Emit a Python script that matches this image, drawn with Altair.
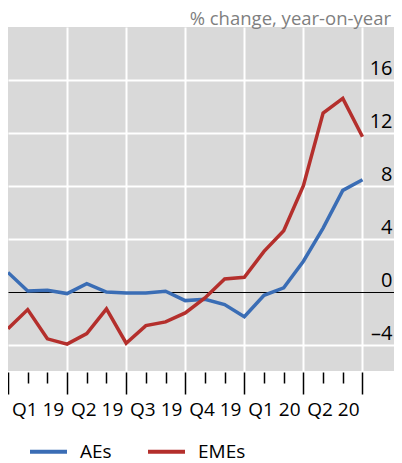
import altair as alt
import pandas as pd

# Monthly index: 0 = start of Q1 2019 ... 18 = end of Q2 2020
months = list(range(19))
ae = [1.45, 0.05, 0.1, -0.15, 0.6, -0.03, -0.1, -0.1, 0.03, -0.68, -0.58,
      -0.98, -1.9, -0.28, 0.28, 2.3, 4.8, 7.65, 8.45]
eme = [-2.8, -1.36, -3.57, -3.97, -3.17, -1.31, -3.9, -2.57, -2.29, -1.61,
       -0.48, 0.96, 1.08, 3.04, 4.6, 8.0, 13.5, 14.6, 11.7]
series_names = ["AEs", "EMEs"]
series_colors = ["#3a6db5", "#b42f2c"]
quarter_labels = ["Q1 19", "Q2 19", "Q3 19", "Q4 19", "Q1 20", "Q2 20"]
y_ticks = [-4, 0, 4, 8, 12, 16]
title_text = "% change, year-on-year"

df = pd.DataFrame({
    "m": months * 2,
    "v": ae + eme,
    "s": [series_names[0]] * len(ae) + [series_names[1]] * len(eme),
})

FONT = "Open Sans"
tick_vals = sorted(set(months + [1.5 + 3 * i for i in range(len(quarter_labels))]))
label_arr = "[" + ",".join(f"'{l}'" for l in quarter_labels) + "]"
label_expr = f"(datum.value % 3 == 1.5) ? {label_arr}[floor(datum.value / 3)] : ''"

x = alt.X(
    "m:Q",
    scale=alt.Scale(domain=[0, 19.6], nice=False, zero=False),
    axis=alt.Axis(
        values=tick_vals, title=None, domain=False, offset=1,
        tickColor="black", tickWidth=1.5,
        tickSize={"condition": {"test": "datum.value % 3 == 0", "value": 22}, "value": 11},
        tickOpacity={"condition": {"test": "datum.value % 1 != 0", "value": 0}, "value": 1},
        grid=True, gridColor="white", gridWidth=2,
        gridOpacity={"condition": {"test": "datum.value % 3 == 0 && datum.value > 0", "value": 1}, "value": 0},
        labelExpr=label_expr, labelFont=FONT, labelFontSize=19, labelColor="black",
        labelPadding=17, labelFlush=False, labelOverlap=False, labelBaseline="top",
    ),
)

y = alt.Y(
    "v:Q",
    scale=alt.Scale(domain=[-6, 20], nice=False, zero=False),
    axis=alt.Axis(
        values=y_ticks, orient="right", title=None, domain=False, ticks=False,
        grid=True,
        gridColor={"condition": {"test": "datum.value == 0", "value": "black"}, "value": "white"},
        gridWidth={"condition": {"test": "datum.value == 0", "value": 1.2}, "value": 2},
        labelAlign="right", labelPadding=-2, labelBaseline="alphabetic", labelOffset=-5,
        labelFont=FONT, labelFontSize=20, labelColor="black",
        labelExpr="datum.value < 0 ? '\u2013' + abs(datum.value) : datum.label",
    ),
)

color = alt.Color(
    "s:N",
    scale=alt.Scale(domain=series_names, range=series_colors),
    legend=alt.Legend(
        title=None, orient="none", legendX=20, legendY=404, direction="horizontal",
        symbolType="stroke", symbolSize=1369, symbolStrokeWidth=4,
        labelFont=FONT, labelFontSize=19, labelColor="black", labelOffset=11,
        columnPadding=28, padding=0, offset=0,
    ),
)

chart = (
    alt.Chart(df)
    .mark_line(strokeWidth=3.5)
    .encode(x=x, y=y, color=color)
    .properties(
        width=386, height=344,
        title=alt.TitleParams(
            text=title_text, anchor="end", frame="group", font=FONT, fontSize=18.5,
            fontWeight="normal", color="#7f7f7f", offset=-1, dx=-3,
        ),
        autosize=alt.AutoSizeParams(type="none"),
        padding={"left": 0, "top": 19, "right": 0, "bottom": 92},
    )
    .configure_view(fill="#d9d9d9", stroke=None)
)

chart.save("out.html", embed_options={"renderer": "svg", "actions": False})
